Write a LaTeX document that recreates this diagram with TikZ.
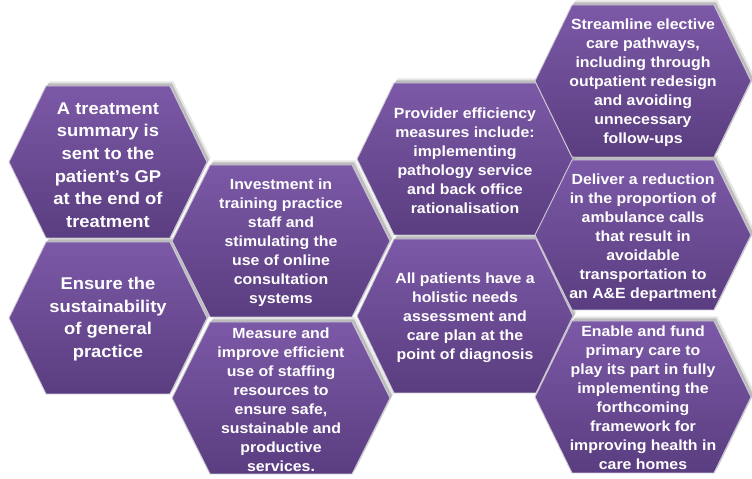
\documentclass[tikz,border=0pt]{standalone}
\usepackage{fontspec}
\setmainfont{Liberation Sans}[FakeStretch=1.08]
\definecolor{hextop}{RGB}{124,89,167}
\definecolor{hexbot}{RGB}{90,61,128}
\definecolor{hexedge}{RGB}{205,200,212}
\tikzset{
  hexbody/.style={top color=hextop, bottom color=hexbot, draw=hexedge, line width=0.9pt, line join=round},
  hexshade/.style={fill=black, opacity=#1},
  lbl/.style={text=white, align=center, inner sep=0pt, font=\bfseries\fontsize{14.7}{19}\selectfont},
  lblbig/.style={text=white, align=center, inner sep=0pt, font=\bfseries\fontsize{17}{22.7}\selectfont},
}
% #1 cx, #2 cy (from top), #3 half-width, #4 half-height, #5 inset
\newcommand\hexpath[5]{({#1-#3},{479-#2}) -- ({#1-#3+#5},{479-#2+#4}) -- ({#1+#3-#5},{479-#2+#4}) -- ({#1+#3},{479-#2}) -- ({#1+#3-#5},{479-#2-#4}) -- ({#1-#3+#5},{479-#2-#4}) -- cycle}
\newcommand\hexcell[5]{%
  \fill[hexshade=0.10] \hexpath{#1+3.5}{#2+4.5}{#3}{#4}{#5};
  \fill[hexshade=0.18] \hexpath{#1+2}{#2+2.5}{#3}{#4}{#5};
  \path[hexbody] \hexpath{#1}{#2}{#3}{#4}{#5};
}
\begin{document}
\begin{tikzpicture}[x=1pt,y=1pt]
\useasboundingbox (0,0) rectangle (752,479);
% column 1
\hexcell{108}{162}{99}{76}{37}
\hexcell{108}{318}{99}{76}{37}
% column 2
\hexcell{281}{241}{109}{76}{38}
\hexcell{281}{398}{109}{76}{38}
% column 3
\hexcell{465}{159}{108}{76}{37}
\hexcell{465}{316}{108}{77}{37}
% column 4
\hexcell{643}{81}{108}{76}{37}
\hexcell{643}{235}{108}{75}{37}
\hexcell{643}{397}{108}{76}{37}

\node[lblbig] (t11) at (108,{479-165}) {A treatment\\summary is\\sent to the\\patient’s GP\\at the end of\\treatment};
\node[lblbig] (t12) at (108,{479-319}) {Ensure the\\sustainability\\of general\\practice};
\node[lbl] (t21) at (281,{479-243}) {Investment in\\training practice\\staff and\\stimulating the\\use of online\\consultation\\systems};
\node[lbl] (t22) at (281,{479-400}) {Measure and\\improve efficient\\use of staffing\\resources to\\ensure safe,\\sustainable and\\productive\\services.};
\node[lbl] (t31) at (465,{479-161}) {Provider efficiency\\measures include:\\implementing\\pathology service\\and back office\\rationalisation};
\node[lbl] (t32) at (465,{479-318}) {All patients have a\\holistic needs\\assessment and\\care plan at the\\point of diagnosis};
\node[lbl] (t41) at (643,{479-83}) {Streamline elective\\care pathways,\\including through\\outpatient redesign\\and avoiding\\unnecessary\\follow-ups};
\node[lbl] (t42) at (643,{479-238}) {Deliver a reduction\\in the proportion of\\ambulance calls\\that result in\\avoidable\\transportation to\\an A\&E department};
\node[lbl] (t43) at (643,{479-398}) {Enable and fund\\primary care to\\play its part in fully\\implementing the\\forthcoming\\framework for\\improving health in\\care homes};
\end{tikzpicture}
\end{document}
